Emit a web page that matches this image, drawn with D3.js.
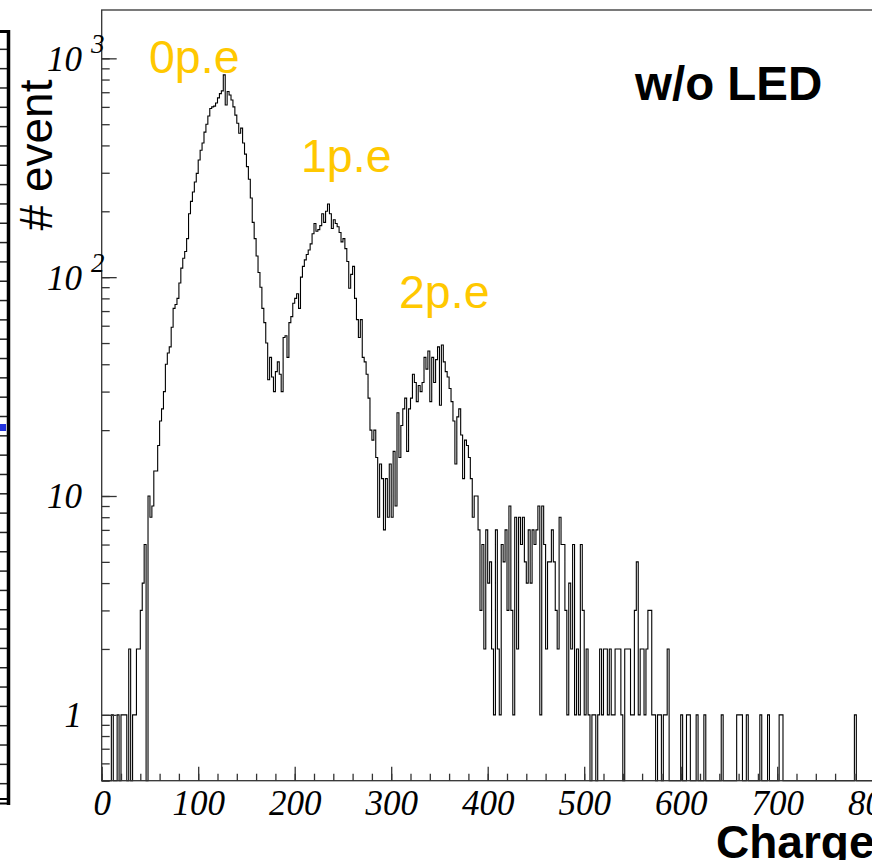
<!DOCTYPE html>
<html>
<head>
<meta charset="utf-8">
<script src="https://cdn.jsdelivr.net/npm/d3@7"></script>
<style>
  body { margin: 0; background: #fff; }
  svg { display: block; }
</style>
</head>
<body>
<div id="chart"></div>
<script>
// histogram: 2-unit bins starting at 0
const binWidth = 2;
const counts = [
  0, 0, 0, 0, 0, 1, 0, 0, 1, 0,            // 0-18
  1, 1, 1, 0, 2, 0, 1, 1, 2, 2,            // 20-38
  3, 4, 6, 0, 10, 8, 9, 13, 13, 17,        // 40-58
  22, 25, 30, 40, 45, 48, 59, 72, 75, 80,  // 60-78
  94, 110, 122, 131, 150, 195, 222, 245, 272, 298,   // 80-98
  343, 380, 410, 460, 500, 545, 590, 600, 605, 625,  // 100-118
  660, 690, 710, 840, 612, 705, 680, 645, 600, 550,  // 120-138
  505, 455, 480, 410, 365, 320, 280, 230, 178, 150,  // 140-158
  125, 105, 90, 72, 62, 50, 34, 43, 35, 30,          // 160-178
  37, 41, 36, 30, 53, 54, 43, 62, 66, 76,            // 180-198
  80, 84, 72, 100, 112, 120, 127, 133, 142, 158,     // 200-218
  176, 162, 165, 172, 195, 178, 200, 216, 195, 167,  // 220-238
  183, 176, 170, 160, 145, 150, 135, 118, 89, 103,   // 240-258
  112, 80, 64, 53, 64, 43, 41, 36, 28, 20,           // 260-278
  18, 20, 15, 8, 14, 12, 7, 12, 8, 14,               // 280-298
  8, 16, 9, 24, 15, 21, 25, 28, 16, 25,              // 300-318
  28, 36, 33, 27, 32, 30, 33, 43, 38, 46,            // 320-338
  27, 43, 33, 42, 48, 26, 49, 41, 37, 35,            // 340-358
  31, 27, 22, 14, 23, 25, 19, 12, 18, 17,            // 360-378
  15, 12, 8, 10, 10, 7, 3, 6, 2, 7,                  // 380-398
  4, 5, 2, 1, 7, 2, 1, 6, 5, 7,                      // 400-418
  3, 9, 3, 1, 8, 2, 8, 6, 8, 5,                      // 420-438
  4, 7, 4, 7, 6, 7, 9, 1, 9, 6,                      // 440-458
  2, 5, 5, 7, 5, 3, 2, 8, 6, 6,                      // 460-478
  3, 1, 4, 2, 6, 1, 2, 1, 6, 3,                      // 480-498
  1, 2, 1, 0, 1, 1, 0, 1, 2, 1,                      // 500-518
  2, 2, 1, 2, 1, 1, 2, 2, 2, 1,                      // 520-538
  0, 2, 2, 2, 1, 1, 3, 5, 1, 2,                      // 540-558
  2, 1, 2, 3, 3, 1, 1, 0, 1, 1,                      // 560-578
  0, 1, 1, 2, 0, 0, 0, 0, 0, 0,                      // 580-598
  1, 0, 0, 1, 1, 0, 0, 0, 1, 0,                      // 600-618
  0, 0, 1, 0, 0, 0, 0, 0, 0, 0,                      // 620-638
  0, 1, 0, 0, 0, 0, 0, 0, 0, 1,                      // 640-658
  1, 1, 0, 0, 1, 0, 0, 0, 0, 0,                      // 660-678
  0, 1, 0, 0, 0, 1, 0, 0, 0, 0,                      // 680-698
  0, 1, 1, 0, 0, 0, 0, 0, 0, 0,                      // 700-718
  0, 0, 0, 0, 0, 0, 0, 0, 0, 0,                      // 720-738
  0, 0, 0, 0, 0, 0, 0, 0, 0, 0,                      // 740-758
  0, 0, 0, 0, 0, 0, 0, 0, 0, 0,                      // 760-778
  1, 0, 0, 0, 0, 0, 0, 0, 0, 0                       // 780-798
];
const xMajorTicks = [0, 100, 200, 300, 400, 500, 600, 700, 800];
const yMajorTicks = [1, 10, 100, 1000];
const yTickBase = ["1", "10", "10", "10"];
const yTickExp = ["", "", "2", "3"];
const peakNames = ["0p.e", "1p.e", "2p.e"];

const W = 872, H = 860;
const padLeft = 101.7, padBottom = 780.7, padTop = 10;

const svg = d3.select("#chart").append("svg")
  .attr("width", W).attr("height", H);

const x = d3.scaleLinear().domain([0, 1000]).range([padLeft, padLeft + 965]);
const y = d3.scaleLog().domain([0.5, 1663]).range([padBottom, padTop]);

// piece of the neighbouring pad on the left
const nb = d3.scaleLinear().domain([0, 40]).range([803, 30]);
svg.append("g").selectAll("line").data(d3.range(1, 40)).enter().append("line")
  .attr("x1", 0).attr("x2", 7)
  .attr("y1", d => nb(d)).attr("y2", d => nb(d))
  .attr("stroke", "#222").attr("stroke-width", 1.5);
svg.append("line").attr("x1", 8.5).attr("x2", 8.5).attr("y1", 30).attr("y2", 805)
  .attr("stroke", "#000").attr("stroke-width", 3.5);
svg.append("line").attr("x1", 0).attr("x2", 10).attr("y1", 31.5).attr("y2", 31.5)
  .attr("stroke", "#000").attr("stroke-width", 3);
svg.append("line").attr("x1", 0).attr("x2", 10).attr("y1", 799).attr("y2", 799)
  .attr("stroke", "#000").attr("stroke-width", 2);
svg.append("line").attr("x1", 0).attr("x2", 10).attr("y1", 803.5).attr("y2", 803.5)
  .attr("stroke", "#000").attr("stroke-width", 2);
svg.append("rect").attr("x", 0).attr("y", 424).attr("width", 6).attr("height", 7)
  .attr("fill", "#2233dd");

// histogram outline
const pts = [[0, 0]];
counts.forEach((c, i) => {
  pts.push([i * binWidth, c]);
  pts.push([(i + 1) * binWidth, c]);
});
pts.push([counts.length * binWidth, 0]);
const line = d3.line()
  .x(d => x(d[0]))
  .y(d => d[1] > 0 ? y(d[1]) : padBottom);
svg.append("path").datum(pts)
  .attr("d", line)
  .attr("fill", "none")
  .attr("stroke", "#000")
  .attr("stroke-width", 1.1);

// frame
svg.append("rect")
  .attr("x", padLeft).attr("y", padTop)
  .attr("width", 1100).attr("height", padBottom - padTop)
  .attr("fill", "none").attr("stroke", "#333").attr("stroke-width", 1.3);

// x axis
const xMinor = svg.append("g").attr("transform", `translate(0,${padBottom})`)
  .call(d3.axisBottom(x).tickValues(d3.range(0, 1001, 20)).tickSize(-7).tickFormat(""));
const xMajor = svg.append("g").attr("transform", `translate(0,${padBottom})`)
  .call(d3.axisBottom(x).tickValues(xMajorTicks).tickSize(-14).tickPadding(9.5));
[xMinor, xMajor].forEach(g => {
  g.select(".domain").remove();
  g.selectAll(".tick line").attr("stroke", "#333").attr("stroke-width", 1.3);
});
xMajor.selectAll(".tick text")
  .attr("font-family", "'Liberation Serif', 'Times New Roman', serif")
  .attr("font-style", "italic")
  .attr("font-size", 35)
  .attr("fill", "#000");

// y axis (log)
const minorVals = [];
[0.1, 1, 10, 100, 1000].forEach(dec => {
  for (let k = 1; k < 10; k++) {
    const v = dec * k;
    if (v >= 0.5 && v <= 1663) minorVals.push(v);
  }
});
const yMinor = svg.append("g").attr("transform", `translate(${padLeft},0)`)
  .call(d3.axisLeft(y).tickValues(minorVals).tickSize(-8).tickFormat(""));
const yMajor = svg.append("g").attr("transform", `translate(${padLeft},0)`)
  .call(d3.axisLeft(y).tickValues(yMajorTicks).tickSize(-15).tickFormat(""));
[yMinor, yMajor].forEach(g => {
  g.select(".domain").remove();
  g.selectAll(".tick line").attr("stroke", "#333").attr("stroke-width", 1.3);
});

const ylab = svg.append("g")
  .attr("font-family", "'Liberation Serif', 'Times New Roman', serif")
  .attr("font-style", "italic");
yMajorTicks.forEach((v, i) => {
  ylab.append("text")
    .attr("x", 82).attr("y", y(v) + 12.5)
    .attr("text-anchor", "end")
    .attr("font-size", 35)
    .text(yTickBase[i]);
  if (yTickExp[i]) {
    ylab.append("text")
      .attr("x", 91).attr("y", y(v) - 5)
      .attr("font-size", 27)
      .text(yTickExp[i]);
  }
});

// titles
const sans = "'Liberation Sans', Arial, Helvetica, sans-serif";
svg.append("text")
  .attr("transform", "translate(52,155) rotate(-90)")
  .attr("text-anchor", "middle")
  .attr("font-family", sans).attr("font-size", 46)
  .text("# event");

svg.append("text")
  .attr("x", 716).attr("y", 858)
  .attr("font-family", sans).attr("font-size", 46).attr("font-weight", "bold")
  .text("Charge");

svg.append("text")
  .attr("x", 635).attr("y", 100)
  .attr("font-family", sans).attr("font-size", 47.5).attr("font-weight", "bold")
  .text("w/o LED");

const peakXY = [[149, 73], [301, 172], [399, 308]];
svg.append("g").selectAll("text").data(peakNames).enter().append("text")
  .attr("x", (d, i) => peakXY[i][0]).attr("y", (d, i) => peakXY[i][1])
  .attr("font-family", sans).attr("font-size", 46.5)
  .attr("fill", "#ffc800")
  .text(d => d);
</script>
</body>
</html>
